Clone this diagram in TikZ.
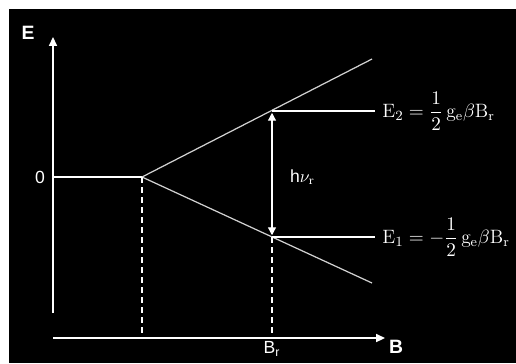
\documentclass[tikz,border=0pt]{standalone}
\usepackage{amsmath}
\usepackage{fontspec}
\setsansfont{Liberation Sans}
\usetikzlibrary{arrows.meta}

\begin{document}
\begin{tikzpicture}[
  x=0.02cm, y=-0.02cm,
  font=\sffamily\fontsize{10}{12}\selectfont,
  axis/.style={draw=white, line width=0.9pt, -{Triangle[length=5pt,width=4.5pt]}},
  branch/.style={draw=black!18, line width=0.7pt},
  level/.style={draw=white, line width=1.6pt},
  guide/.style={draw=white, line width=0.6pt, dash pattern=on 3.5pt off 2.2pt},
  gap/.style={draw=white, line width=0.7pt,
              {Triangle[length=4.5pt,width=4.5pt]}-{Triangle[length=4.5pt,width=4.5pt]}},
  lbl/.style={text=white, inner sep=1pt},
  eqn/.style={text=white, font=\rmfamily\fontsize{11}{13}\selectfont,
              anchor=west, inner sep=0pt}
]
\useasboundingbox (0,0) rectangle (516,363);
\fill[white] (0,0) rectangle (516,363);
\fill[black] (9,9) rectangle (516,363);

% ---- Points ------------------------------------------------------------
\coordinate (ebot) at (53,313);
\coordinate (etop) at (53,37);
\coordinate (bleft) at (53,338);
\coordinate (bright) at (385,338);
\coordinate (zero) at (53,177);
\coordinate (split) at (142,177);
\coordinate (upend) at (372,59);
\coordinate (loend) at (372,283);
\coordinate (res2) at (272,111);
\coordinate (res1) at (272,237);
\coordinate (lev2) at (375,111);
\coordinate (lev1) at (375,237);
\coordinate (foot0) at (142,333);
\coordinate (foot1) at (272,338);

% ---- Axes --------------------------------------------------------------
\draw[axis] (ebot) -- (etop);
\draw[axis] (bleft) -- (bright);
\node[lbl, font=\sffamily\bfseries\fontsize{11}{13}\selectfont] (elab) at (28,33) {E};
\node[lbl, font=\sffamily\bfseries\fontsize{11}{13}\selectfont] (blab) at (396,347) {B};
\node[lbl] (zlab) at (40,177) {0};
\node[lbl, anchor=north] (brlab) at ([yshift=-1pt]foot1) {B\textsubscript{r}};

% ---- Zeeman levels -----------------------------------------------------
\draw[branch, draw=white] (zero) -- (split);
\draw[branch] (split) -- (upend);
\draw[branch] (split) -- (loend);
\draw[guide] (split) -- (foot0);
\draw[guide] (res1) -- (foot1);
\draw[level] (res2) -- (lev2);
\draw[level] (res1) -- (lev1);
\draw[gap] ([yshift=-1pt]res2) -- ([yshift=1pt]res1);
\node[lbl, anchor=west] (hv) at (288,177) {h$\nu_{\mathrm{r}}$};

% ---- Energies ----------------------------------------------------------
\node[eqn] (e2) at ([xshift=4pt]lev2)
  {$\mathrm{E}_2 = \dfrac{1}{2}\,\mathrm{g}_{\mathrm{e}}\beta\mathrm{B}_{\mathrm{r}}$};
\node[eqn] (e1) at ([xshift=4pt]lev1)
  {$\mathrm{E}_1 = -\dfrac{1}{2}\,\mathrm{g}_{\mathrm{e}}\beta\mathrm{B}_{\mathrm{r}}$};
\end{tikzpicture}
\end{document}
